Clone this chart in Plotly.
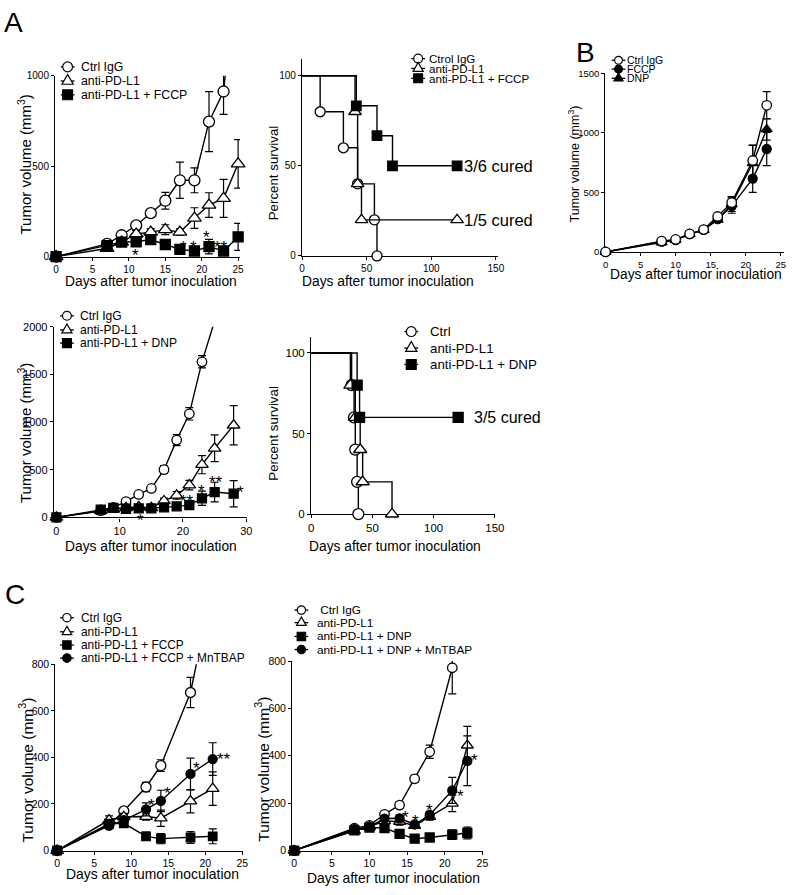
import plotly.graph_objects as go

W, H = 800, 895
FONT = "Arial, Liberation Sans, Helvetica, sans-serif"

# ---------------- data ----------------
# A top-left: tumor volume, FCCP
atl_days = [0, 7, 9, 11, 13, 15, 17, 19, 21, 23, 25]
atl_ctrl = [0, 70, 118, 173, 240, 309, 422, 422, 746, 913, 1700]
atl_ctrl_err = [0, 8, 12, 15, 20, 46, 100, 69, 166, 127, 0]
atl_pd = [0, 45, 80, 125, 135, 149, 135, 213, 285, 322, 513]
atl_pd_err = [0, 8, 10, 20, 20, 27, 18, 57, 68, 105, 134]
atl_fccp = [0, 60, 80, 82, 94, 67, 40, 31, 55, 31, 109]
atl_fccp_err = [0, 10, 12, 18, 18, 20, 10, 15, 40, 15, 75]
atl_sig_text = ["*", "*", "*", "*", "*", "**", "*"]
atl_sig_x = [10.95, 14.7, 17.47, 18.92, 20.72, 22.66, 25.81]
atl_sig_y = [35, -10, 76, 76, 131, 76, 149]

# A top-right: survival, FCCP
atr_ctrl_x = [0, 14, 32, 43, 56, 58]
atr_ctrl_y = [100, 80, 60, 40, 20, 0]
atr_pd_x = [0, 41, 43, 46, 120]
atr_pd_y = [100, 80, 40, 20, 20]
atr_fccp_x = [0, 42, 58, 70, 120]
atr_fccp_y = [100, 83.3, 66.7, 50, 50]

# B: tumor volume, uncouplers alone
b_days = [0, 8, 10, 12, 14, 16, 18, 21, 23]
b_ctrl = [0, 91, 105, 152, 188, 298, 414, 768, 1232]
b_ctrl_err = [0, 10, 10, 12, 15, 20, 50, 130, 115]
b_fccp = [0, 88, 100, 150, 185, 275, 385, 616, 865]
b_fccp_err = [0, 10, 10, 12, 15, 20, 60, 115, 140]
b_dnp = [0, 80, 100, 150, 185, 270, 400, 745, 1030]
b_dnp_err = [0, 10, 10, 12, 15, 20, 60, 150, 90]

# A bottom-left: tumor volume, DNP
abl_ctrl_days = [0, 7, 9, 11, 13, 15, 17, 19, 21, 23, 25]
abl_ctrl = [0, 70, 105, 165, 240, 303, 500, 810, 1086, 1631, 2060]
abl_ctrl_err = [0, 10, 15, 20, 20, 25, 40, 57, 65, 64, 0]
abl_days = [0, 7, 9, 11, 13, 15, 17, 19, 21, 23, 25, 28]
abl_pd = [0, 70, 85, 100, 110, 100, 172, 231, 338, 552, 724, 966]
abl_pd_err = [0, 10, 15, 15, 15, 15, 30, 40, 50, 95, 140, 205]
abl_dnp = [0, 80, 100, 90, 95, 95, 105, 115, 128, 200, 265, 248]
abl_dnp_err = [0, 10, 15, 15, 15, 15, 15, 20, 20, 74, 103, 138]
abl_sig_text = ["*", "**", "*", "**", "*"]
abl_sig_x = [13.32, 20.63, 22.96, 25.14, 29.02]
abl_sig_y = [17, 220, 324, 417, 313]

# A bottom-right: survival, DNP
abr_ctrl_x = [0, 33, 35, 36, 37.5, 38.5]
abr_ctrl_y = [100, 80, 60, 40, 20, 0]
abr_pd_x = [0, 32, 36, 40, 42, 66]
abr_pd_y = [100, 80, 60, 40, 20, 0]
abr_dnp_x = [0, 37.5, 39.5, 120]
abr_dnp_y = [100, 80, 60, 60]

# C left: FCCP + MnTBAP
cl_days = [0, 7, 9, 12, 14, 18, 21]
cl_ctrl = [0, 110, 170, 273, 365, 679, 1140]
cl_ctrl_err = [0, 10, 12, 20, 25, 65, 0]
cl_pd = [0, 131, 145, 146, 139, 212, 266]
cl_pd_err = [0, 18, 15, 15, 35, 50, 72]
cl_fccp = [0, 115, 117, 61, 51, 56, 61]
cl_fccp_err = [0, 10, 10, 18, 22, 25, 32]
cl_mn = [0, 107, 130, 177, 213, 329, 393]
cl_mn_err = [0, 10, 12, 28, 46, 68, 70]
cl_sig_text = ["*", "*", "*", "**"]
cl_sig_x = [12.70, 14.91, 18.81, 22.57]
cl_sig_y = [216, 266, 372, 414]

# C right: DNP + MnTBAP
cr_ctrl_days = [0, 8, 10, 12, 14, 16, 18, 21]
cr_ctrl = [0, 94, 106, 153, 192, 303, 417, 772]
cr_ctrl_err = [0, 8, 8, 10, 12, 15, 28, 110]
cr_days = [0, 8, 10, 12, 14, 16, 18, 21, 23]
cr_pd = [0, 83, 100, 125, 122, 105, 143, 199, 444]
cr_pd_err = [0, 8, 8, 12, 15, 12, 15, 35, 80]
cr_dnp = [0, 85, 97, 95, 70, 50, 55, 67, 74]
cr_dnp_err = [0, 8, 8, 10, 12, 8, 8, 20, 25]
cr_mn = [0, 90, 100, 135, 136, 110, 150, 254, 379]
cr_mn_err = [0, 8, 8, 12, 15, 12, 15, 55, 105]
cr_sig_text = ["*", "*", "*", "*", "*"]
cr_sig_x = [14.80, 16.11, 17.94, 22.08, 23.95]
cr_sig_y = [161, 143, 189, 250, 400]

# ---------------- helpers ----------------
fig = go.Figure()
layout = dict(width=W, height=H, margin=dict(l=0, r=0, t=0, b=0),
              paper_bgcolor="white", plot_bgcolor="white", showlegend=False,
              font=dict(family=FONT, color="black"))
shapes, annotations = [], []


def X(px):
    return px / W


def Y(py):
    return 1 - py / H


def add_axes(i, xdom, xr, xt, ydom, yr, yt, tfs):
    sx = "" if i == 1 else str(i)
    common = dict(showline=True, linecolor="black", linewidth=1.3, ticks="outside",
                  ticklen=3, tickwidth=1.3, tickcolor="black", showgrid=False,
                  zeroline=False, fixedrange=True, layer="below traces",
                  tickfont=dict(family=FONT, size=tfs, color="black"))
    layout["xaxis" + sx] = dict(domain=[X(xdom[0]), X(xdom[1])], range=xr,
                                anchor="y" + sx, tickvals=xt, **common)
    layout["yaxis" + sx] = dict(domain=[Y(ydom[1]), Y(ydom[0])], range=yr,
                                anchor="x" + sx, tickvals=yt, **common)
    return ("x" + sx, "y" + sx, yr[1])


def series(ax, x, y, err, symbol, fill, size, shape="linear", skip_first=False):
    xa, ya, top = ax
    fig.add_trace(go.Scatter(
        x=x, y=y, xaxis=xa, yaxis=ya, mode="lines",
        line=dict(color="black", width=1.4, shape=shape),
        error_y=dict(type="data", array=err if err else [0] * len(y),
                     visible=bool(err), color="black", thickness=1.2, width=4),
        hoverinfo="skip"))
    pts = [(a, b) for a, b in zip(x, y) if b <= top]
    if skip_first:
        pts = pts[1:]
    fig.add_trace(go.Scatter(
        x=[p[0] for p in pts], y=[p[1] for p in pts], xaxis=xa, yaxis=ya,
        mode="markers", cliponaxis=False, hoverinfo="skip",
        marker=dict(symbol=symbol, size=size, color=fill,
                    line=dict(color="black", width=1.3))))


def glyph(cx, cy, sym, fill, size):
    shapes.append(dict(type="line", xref="paper", yref="paper", x0=X(cx - 7), x1=X(cx + 7),
                       y0=Y(cy), y1=Y(cy), line=dict(color="black", width=1.3)))
    r = size / 2
    st = dict(xref="paper", yref="paper", fillcolor=fill, line=dict(color="black", width=1.2))
    if sym == "circle":
        shapes.append(dict(type="circle", x0=X(cx - r), x1=X(cx + r), y0=Y(cy + r), y1=Y(cy - r), **st))
    elif sym == "square":
        shapes.append(dict(type="rect", x0=X(cx - r), x1=X(cx + r), y0=Y(cy + r), y1=Y(cy - r), **st))
    else:
        s = size * 1.15
        h = s * 0.866
        path = (f"M{X(cx)},{Y(cy - 2 * h / 3)} L{X(cx - s / 2)},{Y(cy + h / 3)} "
                f"L{X(cx + s / 2)},{Y(cy + h / 3)} Z")
        shapes.append(dict(type="path", path=path, **st))


def legend(labels, syms, fills, mx, tx, rows, fs, size):
    for lab, sym, fill, cy in zip(labels, syms, fills, rows):
        glyph(mx, cy, sym, fill, size)
        annotations.append(dict(text=lab, x=X(tx), y=Y(cy), xref="paper", yref="paper",
                                xanchor="left", yanchor="middle", showarrow=False,
                                font=dict(family=FONT, size=fs, color="black")))


def text_px(t, cx, cy, fs, angle=0, anchor="center"):
    annotations.append(dict(text=t, x=X(cx), y=Y(cy), xref="paper", yref="paper",
                            xanchor=anchor, yanchor="middle", showarrow=False, textangle=angle,
                            font=dict(family=FONT, size=fs, color="black")))


def sig(ax, texts, xs, ys, fs=17):
    for t, a, b in zip(texts, xs, ys):
        annotations.append(dict(text=t, x=a, y=b, xref=ax[0], yref=ax[1], showarrow=False,
                                xanchor="center", yanchor="middle", yshift=-5,
                                font=dict(family=FONT, size=fs, color="black")))


def cured(ax, t, x, y, fs):
    annotations.append(dict(text=t, x=x, y=y, xref=ax[0], yref=ax[1], showarrow=False,
                            xanchor="left", yanchor="middle",
                            font=dict(family=FONT, size=fs, color="black")))


VOL = "Tumor volume (mm<sup>3</sup>)"
DAYS = "Days after tumor inoculation"
WH, BK = "white", "black"

# ---------------- A top-left ----------------
a1 = add_axes(1, (53, 241), [-0.135, 25.27], [0, 5, 10, 15, 20, 25],
              (70.7, 254), [0, 1000], [0, 500, 1000], 10)
series(a1, atl_days, atl_ctrl, atl_ctrl_err, "circle", WH, 11)
series(a1, atl_days, atl_pd, atl_pd_err, "triangle-up", WH, 12)
series(a1, atl_days, atl_fccp, atl_fccp_err, "square", BK, 10)
sig(a1, atl_sig_text, atl_sig_x, atl_sig_y)
legend(["Ctrl IgG", "anti-PD-L1", "anti-PD-L1 + FCCP"], ["circle", "triangle-up", "square"],
       [WH, WH, BK], 65.7, 77.3, [61.7, 76, 90], 12.3, 10)
text_px(VOL, 22, 161, 15, -90)
text_px(DAYS, 150.3, 279, 13.8)

# ---------------- A top-right ----------------
a2 = add_axes(2, (304, 502.7), [0, 151.3], [0, 50, 100, 150],
              (53.3, 253.3), [0, 109.5], [0, 50, 100], 10)
series(a2, atr_ctrl_x, atr_ctrl_y, None, "circle", WH, 10, "hv", True)
series(a2, atr_pd_x, atr_pd_y, None, "triangle-up", WH, 11, "hv", True)
series(a2, atr_fccp_x, atr_fccp_y, None, "square", BK, 9.5, "hv", True)
cured(a2, "3/6 cured", 124.1, 50, 16.5)
cured(a2, "1/5 cured", 124.1, 20, 16.5)
legend(["Ctrol IgG", "anti-PD-L1", "anti-PD-L1 + FCCP"], ["circle", "triangle-up", "square"],
       [WH, WH, BK], 422, 431, [53.3, 63.3, 73.3], 11.6, 9)
text_px("Percent survival", 275, 169, 13.3, -90)
text_px(DAYS, 391, 279, 13.8)

# ---------------- B ----------------
a3 = add_axes(3, (612.3, 794), [-0.03, 25.48], [0, 5, 10, 15, 20, 25],
              (68.3, 249.3), [0, 1500], [0, 500, 1000, 1500], 9.5)
series(a3, b_days, b_fccp, b_fccp_err, "circle", BK, 9)
series(a3, b_days, b_dnp, b_dnp_err, "triangle-up", BK, 9.5)
series(a3, b_days, b_ctrl, b_ctrl_err, "circle", WH, 9.5)
legend(["Ctrl IgG", "FCCP", "DNP"], ["circle", "circle", "triangle-up"], [WH, BK, BK],
       625.7, 632, [55, 64, 73.3], 10.5, 8)
text_px(VOL, 580, 160, 12.5, -90)
text_px(DAYS, 704, 272, 13.8)

# ---------------- A bottom-left ----------------
a4 = add_axes(4, (51.7, 248), [-0.404, 30.11], [0, 10, 20, 30],
              (325, 518.3), [0, 2000], [0, 500, 1000, 1500, 2000], 11)
series(a4, abl_ctrl_days, abl_ctrl, abl_ctrl_err, "circle", WH, 9.5)
series(a4, abl_days, abl_pd, abl_pd_err, "triangle-up", WH, 11)
series(a4, abl_days, abl_dnp, abl_dnp_err, "square", BK, 9)
sig(a4, abl_sig_text, abl_sig_x, abl_sig_y)
legend(["Ctrl IgG", "anti-PD-L1", "anti-PD-L1 + DNP"], ["circle", "triangle-up", "square"],
       [WH, WH, BK], 65, 76.7, [314, 328.3, 341.7], 12.1, 9)
text_px(VOL, 21.7, 432.5, 15, -90)
text_px(DAYS, 150.8, 547.5, 13.8)

# ---------------- A bottom-right ----------------
a5 = add_axes(5, (313.3, 500), [0, 150], [0, 50, 100, 150],
              (335, 515), [0, 110.2], [0, 50, 100], 11.5)
series(a5, abr_ctrl_x, abr_ctrl_y, None, "circle", WH, 11, "hv", True)
series(a5, abr_pd_x, abr_pd_y, None, "triangle-up", WH, 11.5, "hv", True)
series(a5, abr_dnp_x, abr_dnp_y, None, "square", BK, 10, "hv", True)
cured(a5, "3/5 cured", 131.5, 60, 16)
legend(["Ctrl", "anti-PD-L1", "anti-PD-L1 + DNP"], ["circle", "triangle-up", "square"],
       [WH, WH, BK], 415, 431.7, [330, 346.7, 363.3], 13.3, 10)
text_px("Percent survival", 275, 433, 13.3, -90)
text_px(DAYS, 398, 547.5, 13.8)

# ---------------- C left ----------------
a6 = add_axes(6, (53.3, 244), [-0.226, 25.09], [0, 5, 10, 15, 20, 25],
              (667.3, 856), [0, 800], [0, 200, 400, 600, 800], 10.5)
series(a6, cl_days, cl_ctrl, cl_ctrl_err, "circle", WH, 10)
series(a6, cl_days, cl_pd, cl_pd_err, "triangle-up", WH, 11)
series(a6, cl_days, cl_fccp, cl_fccp_err, "square", BK, 8.5)
series(a6, cl_days, cl_mn, cl_mn_err, "circle", BK, 9)
sig(a6, cl_sig_text, cl_sig_x, cl_sig_y)
legend(["Ctrl IgG", "anti-PD-L1", "anti-PD-L1 + FCCP", "anti-PD-L1 + FCCP + MnTBAP"],
       ["circle", "triangle-up", "square", "circle"], [WH, WH, BK, BK],
       65, 77.3, [620, 634.3, 647.7, 661], 11.9, 8.5)
text_px(VOL, 23.3, 774, 15.5, -90)
text_px(DAYS, 151.7, 880, 13.9)

# ---------------- C right ----------------
a7 = add_axes(7, (294, 488.3), [-0.261, 25.13], [0, 5, 10, 15, 20, 25],
              (664, 856), [0, 800], [0, 200, 400, 600, 800], 10.5)
series(a7, cr_ctrl_days, cr_ctrl, cr_ctrl_err, "circle", WH, 9.5)
series(a7, cr_days, cr_pd, cr_pd_err, "triangle-up", WH, 10.5)
series(a7, cr_days, cr_dnp, cr_dnp_err, "square", BK, 9)
series(a7, cr_days, cr_mn, cr_mn_err, "circle", BK, 9)
sig(a7, cr_sig_text, cr_sig_x, cr_sig_y)
legend(["\u00a0Ctrl IgG", "anti-PD-L1", "anti-PD-L1 + DNP", "anti-PD-L1 + DNP + MnTBAP"],
       ["circle", "triangle-up", "square", "circle"], [WH, WH, BK, BK],
       303.3, 316.7, [612.3, 625, 639, 652.3], 11.8, 8.5)
text_px(VOL, 263.3, 774, 15.5, -90)
text_px(DAYS, 397, 884, 13.9)

# ---------------- panel letters ----------------
text_px("A", 10.5, 17, 28)
text_px("B", 592, 47, 28)
text_px("C", 12, 597, 28)

layout["shapes"] = shapes
layout["annotations"] = annotations
fig.update_layout(**layout)
fig.write_html("out.html", config={"displayModeBar": False},
               post_script="document.body.style.margin='0';document.body.style.overflow='hidden';")
